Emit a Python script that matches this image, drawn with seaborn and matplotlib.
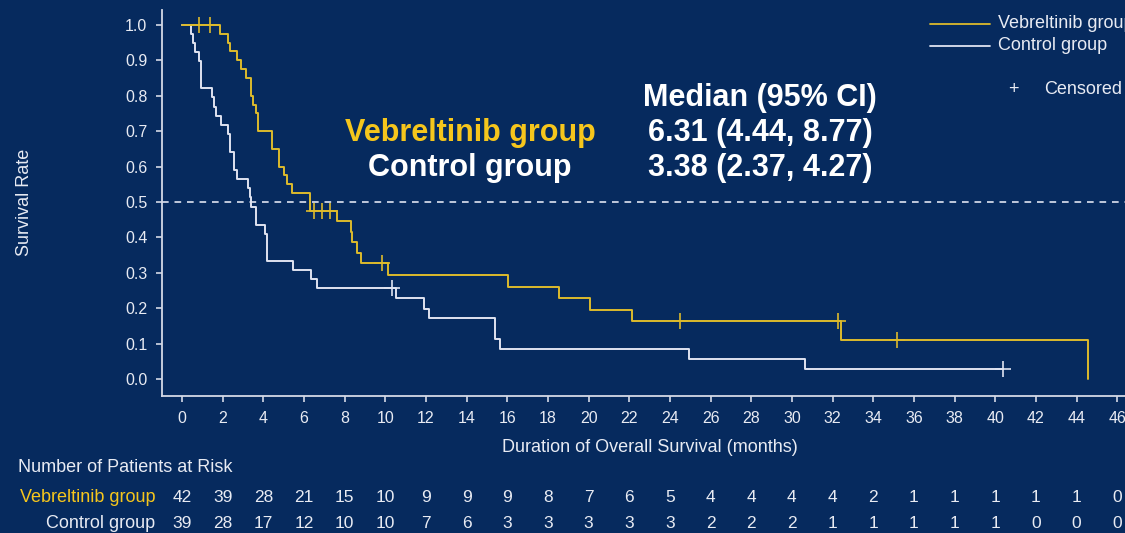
import numpy as np
import pandas as pd
import matplotlib
matplotlib.use("Agg")
import matplotlib.pyplot as plt
import matplotlib.transforms as mtransforms
from matplotlib.lines import Line2D
import seaborn as sns

# ---------------- data ----------------
veb_time = [0, 1.85, 2.26, 2.34, 2.72, 2.92, 3.16, 3.41, 3.49, 3.62, 3.73, 4.42, 4.78,
            5.01, 5.19, 5.41, 6.32, 7.63, 8.30, 8.38, 8.63, 8.80, 10.14, 16.05, 18.54,
            20.06, 22.13, 32.43, 44.57]
veb_surv = [1.0, 0.975, 0.950, 0.925, 0.900, 0.875, 0.850, 0.800, 0.775, 0.750, 0.700,
            0.650, 0.600, 0.575, 0.550, 0.525, 0.475, 0.445, 0.416, 0.386, 0.356, 0.327,
            0.294, 0.261, 0.229, 0.196, 0.163, 0.109, 0.0]
veb_cens_time = [0.82, 1.36, 6.49, 6.88, 7.27, 9.84, 24.5, 32.29, 35.15]
veb_cens_surv = [1.0, 1.0, 0.475, 0.475, 0.475, 0.327, 0.163, 0.163, 0.109]

ctl_time = [0, 0.46, 0.54, 0.62, 0.82, 0.95, 1.49, 1.57, 1.67, 1.92, 2.28, 2.36, 2.57,
            2.72, 3.23, 3.34, 3.42, 3.62, 4.08, 4.16, 5.44, 6.34, 6.62, 10.52, 11.91,
            12.14, 15.41, 15.63, 24.93, 30.66, 40.36]
ctl_surv = [1.0, 0.974, 0.949, 0.923, 0.897, 0.821, 0.795, 0.769, 0.744, 0.718, 0.692,
            0.641, 0.590, 0.564, 0.538, 0.513, 0.487, 0.436, 0.410, 0.333, 0.308, 0.282,
            0.256, 0.228, 0.199, 0.171, 0.114, 0.0855, 0.057, 0.0285, 0.0285]
ctl_cens_time = [10.34, 40.36]
ctl_cens_surv = [0.256, 0.0285]

risk_months = list(range(0, 47, 2))
veb_risk = [42, 39, 28, 21, 15, 10, 9, 9, 9, 8, 7, 6, 5, 4, 4, 4, 4, 2, 1, 1, 1, 1, 1, 0]
ctl_risk = [39, 28, 17, 12, 10, 10, 7, 6, 3, 3, 3, 3, 3, 2, 2, 2, 1, 1, 1, 1, 1, 0, 0, 0]

groups = ["Vebreltinib group", "Control group"]
median_header = "Median (95% CI)"
median_text = ["6.31 (4.44, 8.77)", "3.38 (2.37, 4.27)"]
x_ticks = list(range(0, 47, 2))
y_ticks = [round(0.1 * i, 1) for i in range(11)]

# ---------------- style ----------------
BG = "#062a5e"
YEL = "#dcba2c"
YEL_TXT = "#f6c61c"
WHT = "#dfe3f1"
AX = "#d4d9e6"
TXT = "#e8ebf3"

sns.set_theme(style="white")
plt.rcParams["font.family"] = ["Liberation Sans", "DejaVu Sans"]

W, H = 1125, 533
fig = plt.figure(figsize=(W / 100, H / 100), dpi=100)
fig.patch.set_facecolor(BG)
ax = fig.add_axes([162 / W, (H - 396) / H, (W - 162) / W, (396 - 10) / H])
ax.set_facecolor(BG)

df_veb = pd.DataFrame({"t": veb_time, "s": veb_surv})
df_ctl = pd.DataFrame({"t": ctl_time, "s": ctl_surv})
sns.lineplot(data=df_ctl, x="t", y="s", ax=ax, color=WHT, lw=1.4,
             drawstyle="steps-post", estimator=None, sort=False)
sns.lineplot(data=df_veb, x="t", y="s", ax=ax, color=YEL, lw=1.4,
             drawstyle="steps-post", estimator=None, sort=False)

ax.plot(ctl_cens_time, ctl_cens_surv, ls="none", marker="+", ms=11, mew=1.2, color=WHT)
ax.plot(veb_cens_time, veb_cens_surv, ls="none", marker="+", ms=11, mew=1.2, color=YEL)

ax.axhline(0.5, color=WHT, lw=1.2, ls=(0, (4, 3.5)))

ax.set_xlim(-0.98, 46.38)
ax.set_ylim(-0.048, 1.042)
ax.set_xticks(x_ticks)
ax.set_xticklabels([str(v) for v in x_ticks])
ax.set_yticks(y_ticks)
ax.set_yticklabels([f"{v:.1f}" for v in y_ticks])
ax.set_xlabel("")
ax.set_ylabel("")
for side in ["top", "right"]:
    ax.spines[side].set_visible(False)
for side in ["left", "bottom"]:
    ax.spines[side].set_color(AX)
    ax.spines[side].set_linewidth(1.3)
ax.tick_params(axis="both", direction="out", length=4.5, width=1.2, color=AX,
               labelcolor=TXT, labelsize=11.5, pad=6)
ax.tick_params(left=True, bottom=True)

# axis titles
fig.text(650 / W, 1 - 448 / H, "Duration of Overall Survival (months)", ha="center",
         va="center", fontsize=13, color=TXT)
fig.text(25 / W, 1 - 202 / H, "Survival Rate", ha="center", va="center",
         rotation=90, fontsize=13, color=TXT)

# median annotation
fig.text(760 / W, 1 - 98 / H, median_header, ha="center", va="center",
         fontsize=22, weight="bold", color="white")
fig.text(470 / W, 1 - 133 / H, groups[0], ha="center", va="center",
         fontsize=22, weight="bold", color=YEL_TXT)
fig.text(470 / W, 1 - 168 / H, groups[1], ha="center", va="center",
         fontsize=22, weight="bold", color="white")
fig.text(760 / W, 1 - 133 / H, median_text[0], ha="center", va="center",
         fontsize=22, weight="bold", color="white")
fig.text(760 / W, 1 - 168 / H, median_text[1], ha="center", va="center",
         fontsize=22, weight="bold", color="white")

# legend (its first label runs off the right edge, as in the reference)
fig.add_artist(Line2D([930 / W, 990 / W], [1 - 24 / H] * 2, color=YEL, lw=1.3))
fig.add_artist(Line2D([930 / W, 990 / W], [1 - 46 / H] * 2, color=WHT, lw=1.3))
fig.text(998 / W, 1 - 24 / H, groups[0], ha="left", va="center", fontsize=13, color=TXT)
fig.text(998 / W, 1 - 46 / H, groups[1], ha="left", va="center", fontsize=13, color=TXT)
fig.text(1013 / W, 1 - 89 / H, "+", ha="center", va="center", fontsize=13, color=TXT)
fig.text(1044 / W, 1 - 89 / H, "Censored", ha="left", va="center", fontsize=13, color=TXT)

# risk table
fig.text(18 / W, 1 - 467 / H, "Number of Patients at Risk", ha="left", va="center",
         fontsize=13, color=TXT)
fig.text(155 / W, 1 - 497 / H, groups[0], ha="right", va="center", fontsize=13, color=YEL_TXT)
fig.text(155 / W, 1 - 523 / H, groups[1], ha="right", va="center", fontsize=13, color=TXT)
trans = mtransforms.blended_transform_factory(ax.transData, fig.transFigure)
for m, a, b in zip(risk_months, veb_risk, ctl_risk):
    ax.text(m, 1 - 497 / H, str(a), transform=trans, ha="center", va="center",
            fontsize=12.5, color=TXT, clip_on=False)
    ax.text(m, 1 - 523 / H, str(b), transform=trans, ha="center", va="center",
            fontsize=12.5, color=TXT, clip_on=False)

fig.savefig("out.png", dpi=100, facecolor=BG)
